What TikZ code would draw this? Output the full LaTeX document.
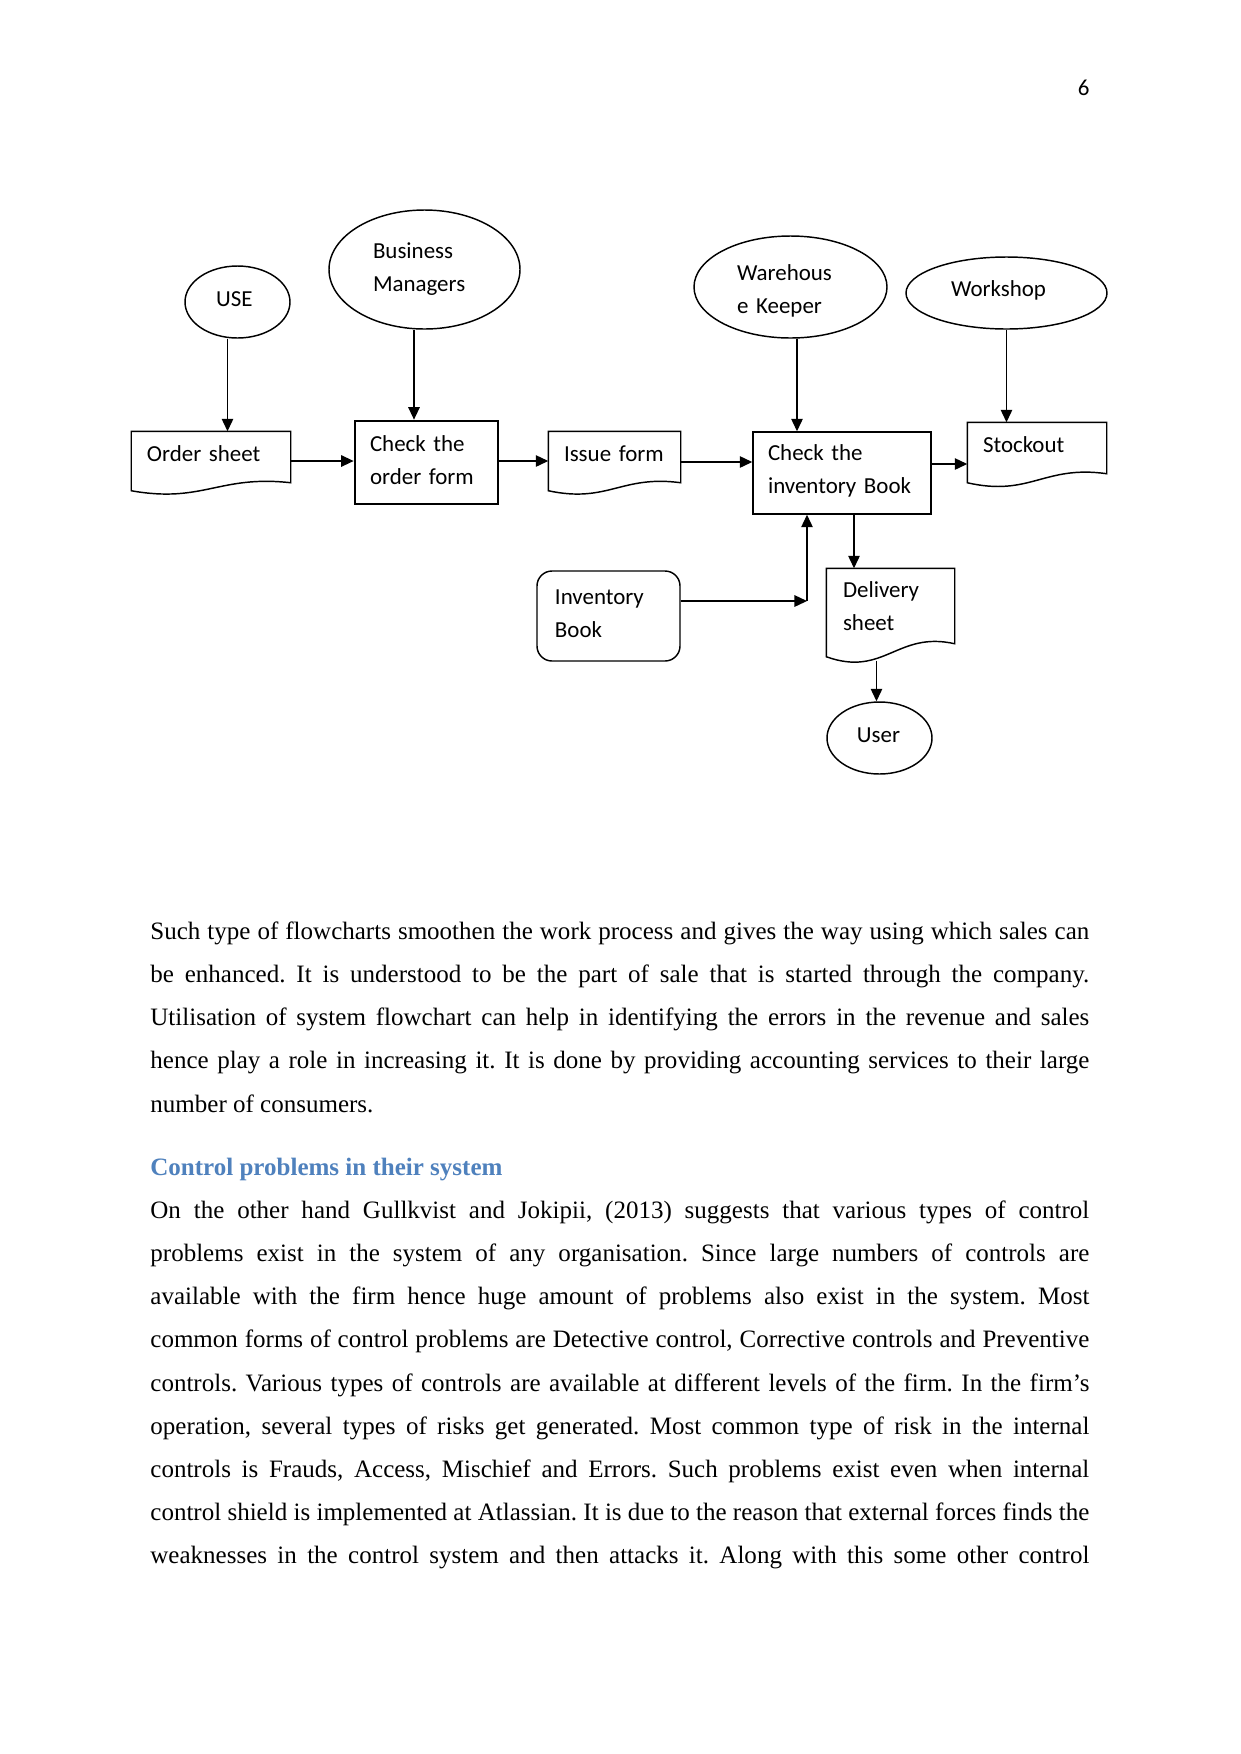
\documentclass[tikz,border=0pt]{standalone}
\usepackage{fontspec}
\setmainfont{Liberation Serif}
\newfontfamily\calibri{Carlito}
\usepackage{xcolor}
\usepackage{tikz}
\usetikzlibrary{shapes.geometric, arrows.meta, positioning, calc}

\definecolor{headblue}{RGB}{79,129,189}
\newcommand{\upx}{0.47968pt}
% document shape: box with a wavy bottom
\newcommand{\docshape}[2]{%
  \draw[line width=0.7pt] (#1.south east) -- (#1.north east) -- (#1.north west)
    -- ($(#1.south west)+(0,#2)$)
    .. controls ($(#1.south west)!0.45!(#1.south east)+(0,2.6*#2)$)
    and ($(#1.south west)!0.55!(#1.south east)+(0,-#2)$) .. (#1.south east) -- cycle;}
\hyphenpenalty=10000\relax
\exhyphenpenalty=10000\relax
\tolerance=10000\relax

\begin{document}
\begin{tikzpicture}[x=\upx, y=-\upx,
    ell/.style={ellipse, draw, line width=0.7pt, inner sep=0pt, align=left, font=\calibri\fontsize{11}{15.8}\selectfont},
    box/.style={rectangle, draw, line width=0.7pt, inner xsep=15*\upx, inner ysep=0pt, align=left, font=\calibri\fontsize{11}{15.8}\selectfont},
    doc/.style={box, draw=none},
    arrow/.style={-{Triangle[length=6pt, width=5.5pt]}, line width=0.7pt},
    para/.style={anchor=north west, inner sep=0pt, text width=450.4pt, align=justify, font=\fontsize{12}{20.7}\selectfont\frenchspacing}
  ]
  \fill[white] (0,0) rectangle (1241,1754);
  \useasboundingbox (0,0) rectangle (1241,1754);

  % --- PAGE NUMBER ---
  \node[anchor=base east, inner sep=0pt, font=\calibri\fontsize{11}{13}\selectfont] (pagenum) at (1090,95) {6};

  % --- ELLIPSES ---
  \node[ell, minimum width=105*\upx, minimum height=72*\upx, text width=20.6pt, text depth=3.2pt] (use) at (237.5,302) {USE};
  \node[ell, minimum width=191*\upx, minimum height=119*\upx, text width=49.4pt] (bm) at (424.5,269.5) {Business\\Managers\rule[-1pt]{0pt}{0pt}};
  \node[ell, minimum width=193*\upx, minimum height=102*\upx, text width=51.3pt] (wk) at (790.5,287) {\rule{0pt}{11.2pt}Warehous\\e Keeper};
  \node[ell, minimum width=201*\upx, minimum height=72*\upx, text width=53.2pt, text depth=4.4pt] (ws) at (1006.5,293) {Workshop};
  \node[ell, minimum width=105*\upx, minimum height=72*\upx, text width=21.6pt, text depth=3.2pt] (user) at (879.5,738) {User};

  % --- BOXES ---
  \node[doc, minimum width=158*\upx, minimum height=50*\upx, text width=61.4pt, text depth=3.2pt] (osheet) at (211,457) {Order sheet};
  \node[box, line width=1.3pt, minimum width=143*\upx, minimum height=83*\upx, text width=54.2pt] (checkorder) at (426.5,462.5) {Check the\\order form\rule[-2.2pt]{0pt}{0pt}};
  \node[doc, minimum width=131*\upx, minimum height=50*\upx, text width=48.45pt, text depth=3.2pt] (issue) at (614.5,457) {Issue form};
  \node[box, minimum width=178*\upx, minimum height=82*\upx, text width=70.99pt] (checkinv) at (842,473) {Check the\\inventory Book\rule[-3.9pt]{0pt}{0pt}};
  \node[doc, minimum width=138*\upx, minimum height=50*\upx, text width=51.81pt, text depth=3.2pt] (stockout) at (1037,448) {Stockout};
  \node[box, rounded corners=15*\upx, inner xsep=18*\upx, minimum width=143*\upx, minimum height=90*\upx, text width=51.33pt] (invbook) at (608.5,616) {Inventory\\Book\rule[-2.2pt]{0pt}{0pt}};
  \node[doc, inner xsep=16*\upx, minimum width=127*\upx, minimum height=74*\upx, text width=45.57pt] (delivery) at (890.5,606) {Delivery\\sheet};

  \docshape{osheet}{8}
  \docshape{issue}{8}
  \docshape{stockout}{9}
  \docshape{delivery}{13}

  % --- CONNECTORS ---
  \coordinate (p1) at ([xshift=-10*\upx]use.south);
  \draw[arrow] (p1) -- (p1 |- osheet.north);
  \coordinate (p2) at ([xshift=-10.5*\upx]bm.south);
  \draw[arrow] (p2) -- (p2 |- checkorder.north);
  \coordinate (p3) at ([xshift=6.5*\upx]wk.south);
  \draw[arrow] (p3) -- (p3 |- checkinv.north);
  \draw[arrow] (ws.south) -- (ws.south |- stockout.north);

  \coordinate (p4) at ([yshift=-4*\upx]osheet.east);
  \draw[arrow] (p4) -- (p4 -| checkorder.west);
  \coordinate (p5) at ([yshift=1.5*\upx]checkorder.east);
  \draw[arrow] (p5) -- (p5 -| issue.west);
  \coordinate (p6) at ([yshift=-5*\upx]issue.east);
  \draw[arrow] (p6) -- (p6 -| checkinv.west);
  \coordinate (p7) at ([yshift=9*\upx]checkinv.east);
  \draw[arrow] (p7) -- (p7 -| stockout.west);

  \coordinate (p8) at ([xshift=12*\upx]checkinv.south);
  \draw[arrow] (p8) -- (p8 |- delivery.north);
  \coordinate (bend) at (807,601);
  \draw[arrow] (invbook.east |- bend) -- (bend);
  \draw[arrow] (bend) -- (bend |- checkinv.south);
  \coordinate (p9) at (user.north |- delivery.south);
  \draw[arrow] ([shift={(-3,17)}]p9) -- ([xshift=-3*\upx]user.north);

  % --- BODY TEXT ---
  \node[para] (para1) at (150,908.8) {\strut Such type of flowcharts smoothen the work process and gives the way using which sales can\linebreak
    be enhanced. It is understood to be the part of sale that is started through the company.\linebreak
    Utilisation of system flowchart can help in identifying the errors in the revenue and sales\linebreak
    hence play a role in increasing it. It is done by providing accounting services to their large\linebreak
    number of consumers.};
  \node[anchor=base west, inner sep=0pt, font=\fontsize{12}{20.7}\selectfont\bfseries, text=headblue] (heading) at (150,1175) {Control problems in their system};
  \node[para] (para2) at (150,1187.8) {\parfillskip=0pt\relax\strut On the other hand Gullkvist and Jokipii, (2013) suggests that various types of control\linebreak
    problems exist in the system of any organisation. Since large numbers of controls are\linebreak
    available with the firm hence huge amount of problems also exist in the system. Most\linebreak
    common forms of control problems are Detective control, Corrective controls and Preventive\linebreak
    controls. Various types of controls are available at different levels of the firm. In the firm’s\linebreak
    operation, several types of risks get generated. Most common type of risk in the internal\linebreak
    controls is Frauds, Access, Mischief and Errors. Such problems exist even when internal\linebreak
    control shield is implemented at Atlassian. It is due to the reason that external forces finds the\linebreak
    weaknesses in the control system and then attacks it. Along with this some other control\par};
\end{tikzpicture}
\end{document}
